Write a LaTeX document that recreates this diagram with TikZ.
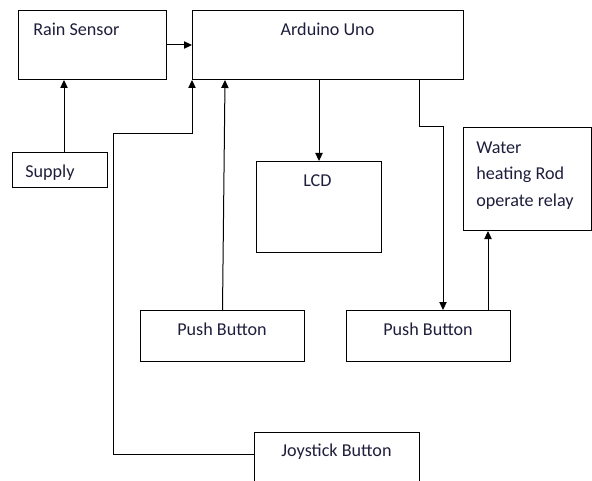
\documentclass[tikz,border=0pt]{standalone}
\usepackage{fontspec}
\setmainfont{Carlito}
\usepackage{xcolor}
\usepackage{tikz}
\usetikzlibrary{arrows.meta}

\definecolor{ink}{HTML}{1E1E3C}
\newdimen\px \px=0.75pt

\tikzset{
  box/.style={draw, line width=0.75pt, anchor=north west, inner sep=0pt},
  lbl/.style={inner sep=0pt, text=ink, font=\fontsize{13.6}{19.5}\selectfont},
  wire/.style={line width=0.75pt},
  arr/.style={wire, -{Triangle[length=6pt,width=5.5pt]}}
}

\begin{document}
\begin{tikzpicture}[x=0.75pt,y=-0.75pt]
\useasboundingbox (0,0) rectangle (592,481);
% blocks
\node[box, minimum width=148\px, minimum height=69\px] (rain) at (18,10) {};
\node[box, minimum width=271\px, minimum height=69\px] (arduino) at (192,10) {};
\node[box, minimum width=95\px, minimum height=35\px] (supply) at (12,152) {};
\node[box, minimum width=125\px, minimum height=91\px] (lcd) at (256,161) {};
\node[box, minimum width=128\px, minimum height=103\px] (water) at (463,127) {};
\node[box, minimum width=164\px, minimum height=51\px] (pb1) at (140,310) {};
\node[box, minimum width=164\px, minimum height=51\px] (pb2) at (346,310) {};
\node[box, minimum width=165\px, minimum height=80\px] (joy) at (254,432) {};
% texts
\node[lbl, anchor=base west] (rain-t) at (33,36) {Rain Sensor};
\node[lbl, anchor=base] (arduino-t) at (327.5,36) {Arduino Uno};
\node[lbl, anchor=base west] (supply-t) at (25,177) {Supply};
\node[lbl, anchor=base west] (lcd-t) at (303,186) {LCD};
\node[lbl, anchor=base west] (water-t1) at (476,154) {Water};
\node[lbl, anchor=base west] (water-t2) at (476,180) {heating Rod};
\node[lbl, anchor=base west] (water-t3) at (476,206) {operate relay};
\node[lbl, anchor=base] (pb1-t) at (222,335) {Push Button};
\node[lbl, anchor=base] (pb2-t) at (428,335) {Push Button};
\node[lbl, anchor=base] (joy-t) at (336.5,456) {Joystick Button};
% bends
\coordinate (jbend) at (113,134);
\coordinate (pbend) at (443,127);
% connectors
\draw[arr] (rain.east) -- (arduino.west |- rain.east);
\draw[arr] (supply.north -| 64,0) -- (rain.south -| 64,0);
\draw[arr] (joy.north west |- 0,454) -| (jbend) -| (arduino.south west);
\draw[arr] (pb1.north) -- (arduino.south -| 225,0);
\draw[arr] (arduino.south -| lcd.north) -- (lcd.north);
\draw[arr] (arduino.south -| 419,0) |- (pbend) -- (pbend |- pb2.north);
\draw[arr] (pb2.north -| 488,0) -- (water.south -| 488,0);
\end{tikzpicture}
\end{document}
